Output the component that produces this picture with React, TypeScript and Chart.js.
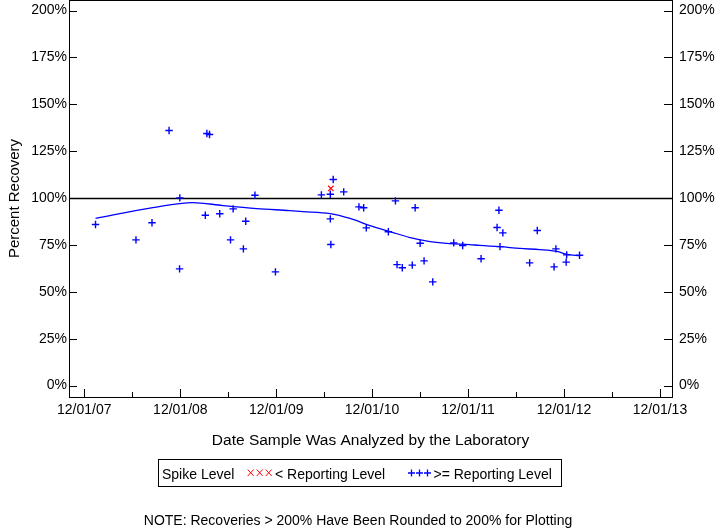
import React, { useEffect, useRef } from 'react';
import { Chart, registerables } from 'chart.js';

Chart.register(...registerables);

// ---- data ----
const recoveryDates = [
  '2008-01-13', '2008-06-15', '2008-08-15', '2008-10-19', '2008-11-29', '2008-11-28',
  '2009-03-12', '2009-03-22', '2009-03-06', '2009-04-30', '2009-06-20', '2009-06-10',
  '2009-08-07', '2009-07-29', '2009-09-11', '2009-11-28', '2010-05-22', '2010-06-25',
  '2010-07-06', '2010-08-15', '2010-06-25', '2010-06-27', '2010-10-12', '2010-10-30',
  '2010-11-09', '2011-02-28', '2011-02-01', '2011-03-06', '2011-03-26', '2011-05-03',
  '2011-05-14', '2011-06-02', '2011-06-17', '2011-07-20', '2011-10-08', '2011-11-11',
  '2012-01-20', '2012-03-28', '2012-03-21', '2012-04-12', '2012-04-01', '2012-07-23',
  '2012-08-21', '2012-10-24', '2012-10-31', '2012-12-11', '2012-12-09', '2013-01-29',
];
const recoveryValues = [
  85.9, 77.7, 86.8, 136.0, 100.1, 62.2,
  134.4, 133.9, 90.8, 91.6, 94.2, 77.7,
  87.6, 72.9, 101.5, 60.6, 101.7, 102.0,
  109.9, 103.3, 88.9, 75.2, 95.3, 94.8,
  84.1, 98.5, 82.0, 64.5, 62.8, 64.2,
  94.8, 75.9, 66.5, 55.3, 76.1, 74.7,
  67.6, 93.5, 84.3, 81.4, 74.1, 65.4,
  82.7, 63.3, 72.9, 69.7, 65.8, 69.5,
];
const belowRLDates = ['2010-06-27'];
const belowRLValues = [105.1];

const loessDates = [
  '2008-01-13', '2008-08-18', '2009-01-17', '2009-05-11', '2009-09-18', '2010-01-22',
  '2010-03-12', '2010-06-24', '2010-09-08', '2010-11-23', '2011-02-08', '2011-04-25',
  '2011-07-10', '2011-09-23', '2011-12-08', '2012-01-15', '2012-04-01', '2012-06-16',
  '2012-08-31', '2012-11-04', '2012-12-12', '2013-01-30',
];
const loessValues = [
  89.1, 94.9, 97.6, 96.0, 94.4, 93.3,
  92.8, 91.7, 89.1, 85.3, 82.1, 78.9,
  76.8, 75.7, 75.2, 74.7, 74.1, 73.1,
  72.5, 71.5, 69.9, 69.3,
];

const xMajorTickDates = ['2007-12-01', '2008-12-01', '2009-12-01', '2010-12-01', '2011-12-01', '2012-12-01', '2013-12-01'];
const xMajorTickLabels = ['12/01/07', '12/01/08', '12/01/09', '12/01/10', '12/01/11', '12/01/12', '12/01/13'];
const xMinorTickDates = ['2008-06-01', '2009-06-01', '2010-06-01', '2011-06-01', '2012-06-01', '2013-06-01'];
const yTickValues = [0, 25, 50, 75, 100, 125, 150, 175, 200];

const X_MIN_DATE = '2007-10-04';
const X_MAX_DATE = '2014-01-16';
const Y_MIN = -6.1;
const Y_MAX = 205.6;
const REFERENCE_LEVEL = 100;

const FONT = '"Liberation Sans", Arial, Helvetica, sans-serif';
const BLUE = '#0000FF';
const RED = '#FF0000';

const ts = (s: string) => Date.parse(s);
const majorTs = xMajorTickDates.map(ts);
const minorTs = xMinorTickDates.map(ts);

const framePlugin = {
  id: 'frameAndTicks',
  beforeDatasetsDraw(chart: any) {
    const { ctx, chartArea: a, scales } = chart;
    const xs = scales.x;
    const ys = scales.y;
    ctx.save();
    ctx.strokeStyle = '#000';
    ctx.lineWidth = 1;
    ctx.strokeRect(a.left + 0.5, a.top + 0.5, a.right - a.left, a.bottom - a.top);
    ctx.beginPath();
    for (const v of yTickValues) {
      const py = Math.round(ys.getPixelForValue(v)) + 0.5;
      ctx.moveTo(a.left, py);
      ctx.lineTo(a.left + 8, py);
      ctx.moveTo(a.right - 8, py);
      ctx.lineTo(a.right, py);
    }
    for (const v of majorTs) {
      const px = Math.round(xs.getPixelForValue(v)) + 0.5;
      ctx.moveTo(px, a.bottom);
      ctx.lineTo(px, a.bottom - 8);
    }
    for (const v of minorTs) {
      const px = Math.round(xs.getPixelForValue(v)) + 0.5;
      ctx.moveTo(px, a.bottom);
      ctx.lineTo(px, a.bottom - 5);
    }
    ctx.stroke();
    // reference line
    const ry = Math.round(ys.getPixelForValue(REFERENCE_LEVEL)) + 0.5;
    ctx.lineWidth = 1.3;
    ctx.beginPath();
    ctx.moveTo(a.left, ry);
    ctx.lineTo(a.right, ry);
    ctx.stroke();
    ctx.restore();
  },
  afterDraw(chart: any) {
    const { ctx } = chart;
    ctx.save();
    ctx.strokeStyle = '#000';
    ctx.lineWidth = 1;
    ctx.strokeRect(158.5, 459.5, 403, 27);
    ctx.font = `14px ${FONT}`;
    ctx.fillStyle = '#000';
    ctx.textBaseline = 'alphabetic';
    ctx.textAlign = 'left';
    ctx.fillText('Spike Level', 162, 479);
    ctx.strokeStyle = RED;
    ctx.beginPath();
    for (const cx of [250.7, 259.7, 268.7]) {
      ctx.moveTo(cx - 3, 469.5);
      ctx.lineTo(cx + 3, 476);
      ctx.moveTo(cx + 3, 469.5);
      ctx.lineTo(cx - 3, 476);
    }
    ctx.stroke();
    ctx.fillText('< Reporting Level', 275, 479);
    ctx.strokeStyle = BLUE;
    ctx.lineWidth = 1.3;
    ctx.beginPath();
    for (const cx of [411.5, 419.5, 427.5]) {
      ctx.moveTo(cx - 3.5, 473);
      ctx.lineTo(cx + 3.5, 473);
      ctx.moveTo(cx, 469.5);
      ctx.lineTo(cx, 476.5);
    }
    ctx.stroke();
    ctx.fillText('>= Reporting Level', 433.5, 479);
    ctx.textAlign = 'center';
    ctx.fillText('NOTE: Recoveries > 200% Have Been Rounded to 200% for Plotting', 358, 525);
    ctx.restore();
  },
};

const zeroPad = (s: any) => {
  s.paddingLeft = 0;
  s.paddingRight = 0;
  s.paddingTop = 0;
  s.paddingBottom = 0;
};

export default function App() {
  const ref = useRef<HTMLCanvasElement | null>(null);

  useEffect(() => {
    if (!ref.current) return;
    const tickFont = { family: FONT, size: 14 };
    const chart = new Chart(ref.current, {
      type: 'scatter',
      data: {
        datasets: [
          {
            label: 'Loess',
            data: loessDates.map((d, i) => ({ x: ts(d), y: loessValues[i] })),
            showLine: true,
            borderColor: BLUE,
            borderWidth: 1.3,
            pointRadius: 0,
            cubicInterpolationMode: 'monotone',
            fill: false,
          } as any,
          {
            label: '>= Reporting Level',
            data: recoveryDates.map((d, i) => ({ x: ts(d), y: recoveryValues[i] })),
            pointStyle: 'cross',
            pointRadius: 3.7,
            borderColor: BLUE,
            backgroundColor: BLUE,
            borderWidth: 1.4,
          },
          {
            label: '< Reporting Level',
            data: belowRLDates.map((d, i) => ({ x: ts(d), y: belowRLValues[i] })),
            pointStyle: 'crossRot',
            pointRadius: 3.8,
            borderColor: RED,
            backgroundColor: RED,
            borderWidth: 1.2,
          },
        ],
      },
      options: {
        responsive: false,
        animation: false,
        devicePixelRatio: 1,
        layout: { padding: 0, autoPadding: false },
        plugins: {
          legend: { display: false },
          tooltip: { enabled: false },
        },
        scales: {
          x: {
            type: 'linear',
            position: 'bottom',
            min: ts(X_MIN_DATE),
            max: ts(X_MAX_DATE),
            afterBuildTicks: (s: any) => {
              s.ticks = [...majorTs, ...minorTs].sort((a, b) => a - b).map((v) => ({ value: v }));
            },
            afterFit: (s: any) => {
              s.height = 131;
              zeroPad(s);
            },
            grid: { display: false, drawTicks: false },
            border: { display: false },
            ticks: {
              autoSkip: false,
              maxRotation: 0,
              minRotation: 0,
              padding: 5,
              color: '#000',
              font: tickFont,
              callback: (v: any) => {
                const i = majorTs.indexOf(Number(v));
                return i >= 0 ? xMajorTickLabels[i] : '';
              },
            },
            title: {
              display: true,
              text: 'Date Sample Was Analyzed by the Laboratory',
              color: '#000',
              font: { family: FONT, size: 15.5 },
              padding: { top: 0, bottom: 77.7 },
            },
          },
          y: {
            type: 'linear',
            position: 'left',
            min: Y_MIN,
            max: Y_MAX,
            afterBuildTicks: (s: any) => {
              s.ticks = yTickValues.map((v) => ({ value: v }));
            },
            afterFit: (s: any) => {
              s.width = 69;
              zeroPad(s);
            },
            grid: { display: false, drawTicks: false },
            border: { display: false },
            ticks: {
              padding: 2,
              color: '#000',
              font: tickFont,
              callback: (v: any) => `${v}%`,
            },
            title: {
              display: true,
              text: 'Percent Recovery',
              color: '#000',
              font: { family: FONT, size: 15 },
              padding: { top: 5.5, bottom: 0 },
            },
          },
          y2: {
            type: 'linear',
            position: 'right',
            display: true,
            min: Y_MIN,
            max: Y_MAX,
            afterBuildTicks: (s: any) => {
              s.ticks = yTickValues.map((v) => ({ value: v }));
            },
            afterFit: (s: any) => {
              s.width = 48;
              zeroPad(s);
            },
            grid: { display: false, drawTicks: false },
            border: { display: false },
            ticks: {
              padding: 7,
              color: '#000',
              font: tickFont,
              callback: (v: any) => `${v}%`,
            },
          },
        },
      } as any,
      plugins: [framePlugin],
    });
    return () => chart.destroy();
  }, []);

  return (
    <div style={{ position: 'absolute', left: 0, top: 0, width: 720, height: 528, background: '#fff' }}>
      <canvas ref={ref} width={720} height={528} style={{ display: 'block', width: 720, height: 528 }} />
    </div>
  );
}
